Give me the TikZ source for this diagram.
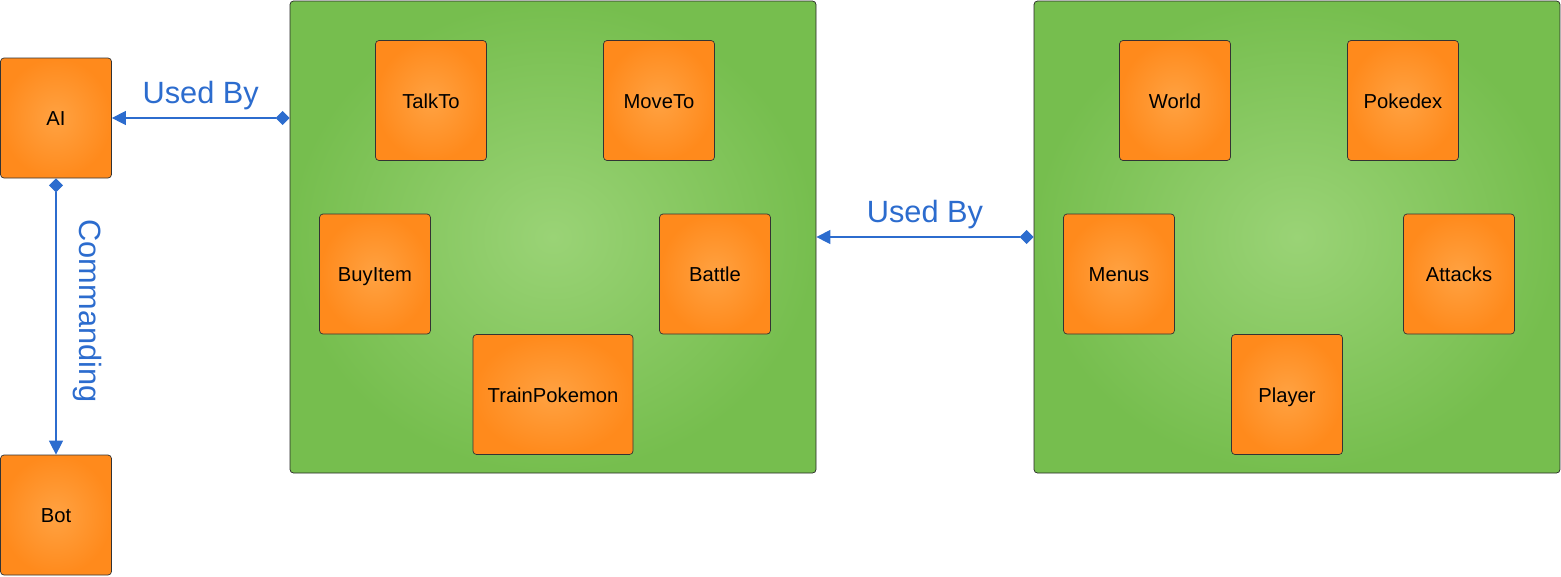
\documentclass[tikz,border=0pt]{standalone}
\usepackage{fontspec}
\setmainfont{Liberation Sans}
\usepackage{xcolor}
\usepackage{tikz}
\usetikzlibrary{arrows.meta, positioning}

\definecolor{kasten}{RGB}{255,138,28}
\definecolor{kastenmitte}{RGB}{255,162,66}
\definecolor{feld}{RGB}{118,190,78}
\definecolor{feldmitte}{RGB}{154,211,118}
\definecolor{linie}{RGB}{44,108,206}

\tikzset{
	klasse/.style={
		draw=black!80,
		rounded corners=2pt,
		inner color=kastenmitte,
		outer color=kasten,
		minimum width=111*0.02cm,
		minimum height=120*0.02cm,
		text height=0.9em,
		text depth=0pt,
		font=\fontsize{11.5}{13}\selectfont
	},
	paket/.style={
		draw=black!85,
		rounded corners=2pt,
		inner color=feldmitte,
		outer color=feld,
		minimum width=526*0.02cm,
		minimum height=472*0.02cm
	},
	benutzt/.style={
		draw=linie,
		line width=0.6pt,
		{Diamond[length=8pt,width=8pt]}-{Triangle[length=8pt,width=8pt]}
	},
	beschriftung/.style={
		text=linie,
		font=\fontsize{17.5}{20}\selectfont
	}
}

\begin{document}
\begin{tikzpicture}[x=0.02cm, y=-0.02cm]
	\useasboundingbox (0,0) rectangle (1561,576);
	% Steuerung
	\node[klasse] (ai) at (56,118) {AI};
	\node[klasse] (bot) at (56,515) {Bot};
	% Aktionen
	\node[paket] (aktionen) at (553,237) {};
	\node[klasse] (talkto) at (431,100.5) {TalkTo};
	\node[klasse] (moveto) at (659,100.5) {MoveTo};
	\node[klasse] (buyitem) at (375,274) {BuyItem};
	\node[klasse] (battle) at (715,274) {Battle};
	\node[
		klasse,
		minimum width=160*0.02cm
	] (trainpokemon) at (553,394.5) {TrainPokemon};
	% Spiel
	\node[paket] (spiel) at (1297,237) {};
	\node[klasse] (world) at (1175,100.5) {World};
	\node[klasse] (pokedex) at (1403,100.5) {Pokedex};
	\node[klasse] (menus) at (1119,274) {Menus};
	\node[klasse] (attacks) at (1459,274) {Attacks};
	\node[klasse] (player) at (1287,394.5) {Player};
	% Verbindungen
	\draw[benutzt] (aktionen.west |- ai.east) -- (ai.east)
		node[beschriftung, midway, above=1pt] (usedby1) {Used By};
	\draw[benutzt] (spiel.west) -- (aktionen.east)
		node[beschriftung, midway, above=1pt] (usedby2) {Used By};
	\draw[benutzt] (ai.south) -- (bot.north)
		node[beschriftung, pos=0.48, right=6pt, rotate=-90, anchor=south] (commanding) {Commanding};

\end{tikzpicture}
\end{document}
